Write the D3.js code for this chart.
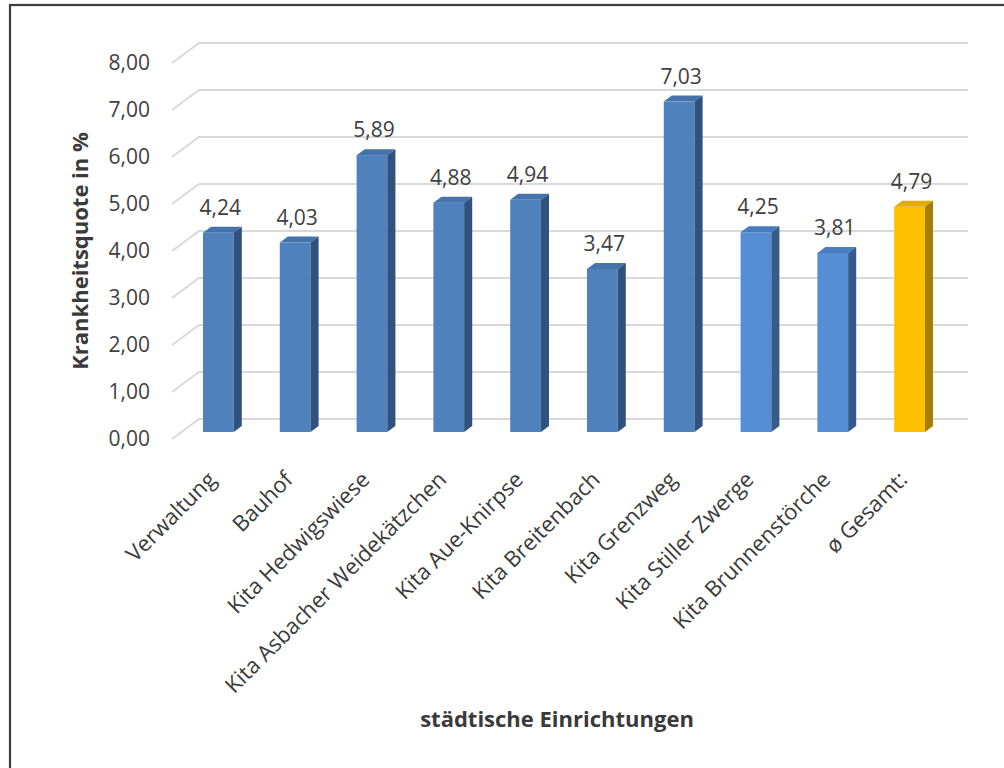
<!DOCTYPE html>
<html>
<head>
<meta charset="utf-8">
<script src="https://cdn.jsdelivr.net/npm/d3@7"></script>
<style>
  body { margin: 0; background: #fff; }
  svg { display: block; font-family: "Open Sans", sans-serif; }
</style>
</head>
<body>
<svg id="chart" width="1004" height="768"></svg>
<script>
/* DATA */
const categories = ["Verwaltung", "Bauhof", "Kita Hedwigswiese", "Kita Asbacher Weidekätzchen",
  "Kita Aue-Knirpse", "Kita Breitenbach", "Kita Grenzweg", "Kita Stiller Zwerge",
  "Kita Brunnenstörche", "ø Gesamt:"];
const values = [4.24, 4.03, 5.89, 4.88, 4.94, 3.47, 7.03, 4.25, 3.81, 4.79];
const groups = ["amt", "amt", "amt", "amt", "amt", "amt", "amt", "neu", "neu", "avg"];
const yTicks = [0, 1, 2, 3, 4, 5, 6, 7, 8];

/* LAYOUT */
const svg = d3.select("#chart");
const depth = { dx: 27, dy: -20 };   // floor depth of the 3d box
const f0 = 0.35, f1 = 0.65;          // bar front / back as part of depth

const de = d3.formatLocale({ decimal: ",", thousands: ".", grouping: [3], currency: ["", " €"] });
const fmt = de.format(".2f");

const x = d3.scaleBand()
  .domain(categories)
  .range([170.5, 938.5])
  .paddingInner(0.6)
  .paddingOuter(0.3);

const y = d3.scaleLinear()
  .domain([0, 8])
  .range([439, 63]);

const colour = {
  amt: { front: "#4f81bd", top: "#4573ab", side: "#30527f" },
  neu: { front: "#558ed5", top: "#4a7cbd", side: "#365b8a" },
  avg: { front: "#ffc000", top: "#e3aa00", side: "#a67d00" }
};

// frame
svg.append("rect")
  .attr("x", 10).attr("y", 5)
  .attr("width", 1100).attr("height", 900)
  .attr("fill", "none")
  .attr("stroke", "#3c3c3c")
  .attr("stroke-width", 2.2);

// gridlines with the short diagonal at the left wall
svg.append("g")
  .selectAll("path")
  .data(yTicks)
  .join("path")
  .attr("d", t => {
    const y0 = y(t);
    return `M172,${y0} L${172 + depth.dx},${y0 + depth.dy} L968,${y0 + depth.dy}`;
  })
  .attr("fill", "none")
  .attr("stroke", "#d9d9d9")
  .attr("stroke-width", 2);

// y axis labels
const yAxis = d3.axisLeft(y)
  .tickValues(yTicks)
  .tickFormat(fmt)
  .tickSize(0)
  .tickPadding(22);

svg.append("g")
  .attr("transform", "translate(172,0)")
  .call(yAxis)
  .call(g => g.select(".domain").remove())
  .selectAll("text")
  .attr("font-family", "Open Sans")
  .attr("font-size", 21)
  .attr("fill", "#404040");

// bars
const bars = svg.append("g")
  .selectAll("g")
  .data(categories.map((c, i) => ({ cat: c, v: values[i], grp: groups[i] })))
  .join("g");

const sdx = (f1 - f0) * depth.dx, sdy = (f1 - f0) * depth.dy;

function geo(d) {
  const x0 = x(d.cat) + f0 * depth.dx;
  const w = x.bandwidth();
  const yt = y(d.v) + f0 * depth.dy;
  const yb = y(0) + f0 * depth.dy;
  return { x0, w, yt, yb };
}

bars.append("rect")
  .attr("x", d => geo(d).x0)
  .attr("y", d => geo(d).yt)
  .attr("width", x.bandwidth())
  .attr("height", d => geo(d).yb - geo(d).yt)
  .attr("fill", d => colour[d.grp].front);

bars.append("path")
  .attr("d", d => {
    const g = geo(d);
    return `M${g.x0},${g.yt} L${g.x0 + g.w},${g.yt} L${g.x0 + g.w + sdx},${g.yt + sdy} L${g.x0 + sdx},${g.yt + sdy} Z`;
  })
  .attr("fill", d => colour[d.grp].top);

bars.append("path")
  .attr("d", d => {
    const g = geo(d);
    return `M${g.x0 + g.w},${g.yt} L${g.x0 + g.w + sdx},${g.yt + sdy} L${g.x0 + g.w + sdx},${g.yb + sdy} L${g.x0 + g.w},${g.yb} Z`;
  })
  .attr("fill", d => colour[d.grp].side);

// value labels
bars.append("text")
  .attr("x", d => geo(d).x0 + x.bandwidth() / 2 + 2)
  .attr("y", d => geo(d).yt - 18)
  .attr("text-anchor", "middle")
  .attr("font-size", 21)
  .attr("fill", "#404040")
  .text(d => fmt(d.v));

// category labels
const xAxis = d3.axisBottom(x).tickSize(0).tickPadding(0);
svg.append("g")
  .attr("transform", `translate(${f0 * depth.dx - 1},481)`)
  .call(xAxis)
  .call(g => g.select(".domain").remove())
  .selectAll("text")
  .attr("y", 0)
  .attr("dy", 0)
  .attr("text-anchor", "end")
  .attr("transform", "rotate(-45)")
  .attr("font-family", "Open Sans")
  .attr("font-size", 22)
  .attr("fill", "#3a3a3a");

// axis titles
svg.append("text")
  .attr("transform", "translate(88,251) rotate(-90)")
  .attr("text-anchor", "middle")
  .attr("font-size", 22)
  .attr("font-weight", "bold")
  .attr("fill", "#3a3a3a")
  .text("Krankheitsquote in %");

svg.append("text")
  .attr("x", 557)
  .attr("y", 727)
  .attr("text-anchor", "middle")
  .attr("font-size", 22)
  .attr("font-weight", "bold")
  .attr("fill", "#3a3a3a")
  .text("städtische Einrichtungen");
</script>
</body>
</html>
